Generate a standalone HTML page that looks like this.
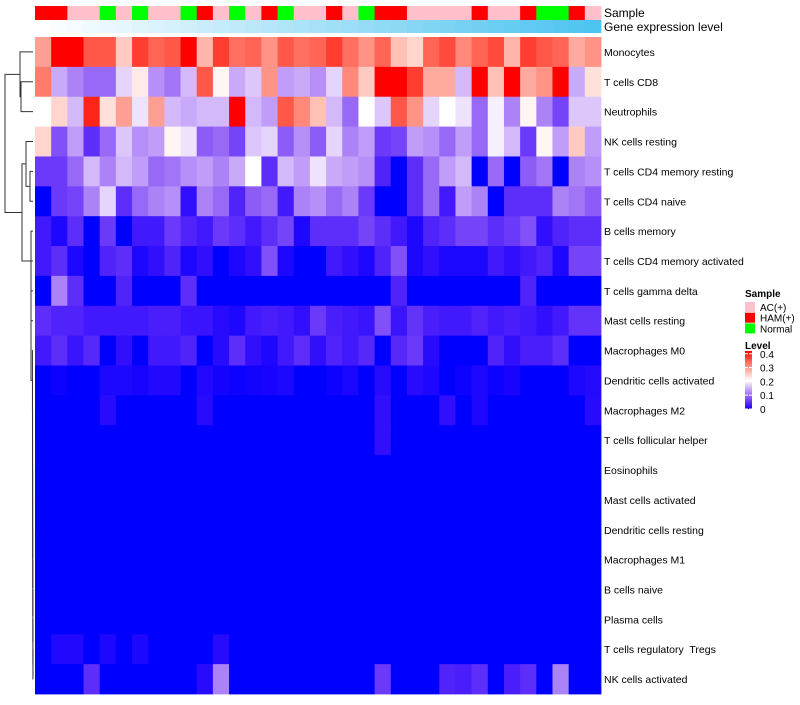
<!DOCTYPE html>
<html><head><meta charset="utf-8"><style>
body{margin:0;background:#fff;width:800px;height:700px;overflow:hidden;font-family:"Liberation Sans",sans-serif}
svg text{font-family:"Liberation Sans",sans-serif;white-space:pre}
</style></head><body>
<svg id="chart" width="800" height="700" xmlns="http://www.w3.org/2000/svg"></svg>
<script>
const rowLabels=["Monocytes","T cells CD8","Neutrophils","NK cells resting","T cells CD4 memory resting","T cells CD4 naive","B cells memory","T cells CD4 memory activated","T cells gamma delta","Mast cells resting","Macrophages M0","Dendritic cells activated","Macrophages M2","T cells follicular helper","Eosinophils","Mast cells activated","Dendritic cells resting","Macrophages M1","B cells naive","Plasma cells","T cells regulatory  Tregs","NK cells activated"];
const sampleGroups=["H","H","A","A","N","A","N","A","A","N","H","A","N","A","H","N","A","A","H","A","N","H","H","A","A","A","A","H","A","A","H","N","N","H","A"];
const zeros=()=>Array(35).fill(0);
const r0=[0.3,0.42,0.42,0.36,0.36,0.26,0.38,0.35,0.36,0.42,0.28,0.38,0.34,0.35,0.31,0.36,0.34,0.35,0.38,0.34,0.31,0.35,0.27,0.25,0.35,0.37,0.32,0.35,0.37,0.28,0.38,0.36,0.35,0.29,0.31];
const r1=[0.33,0.15,0.12,0.1,0.1,0.18,0.23,0.13,0.11,0.16,0.36,0.22,0.15,0.17,0.31,0.14,0.15,0.13,0.18,0.32,0.26,0.45,0.45,0.38,0.29,0.29,0.16,0.45,0.27,0.45,0.29,0.31,0.45,0.15,0.24];
const r2=[0.21,0.25,0.16,0.4,0.24,0.3,0.19,0.3,0.16,0.15,0.16,0.16,0.45,0.16,0.14,0.36,0.32,0.27,0.16,0.1,0.21,0.17,0.36,0.31,0.18,0.21,0.19,0.1,0.2,0.12,0.22,0.12,0.07,0.17,0.17];
const r3=[0.25,0.08,0.14,0.05,0.1,0.17,0.13,0.14,0.22,0.19,0.09,0.1,0.07,0.17,0.18,0.09,0.13,0.09,0.18,0.12,0.14,0.06,0.07,0.14,0.13,0.1,0.14,0.1,0.2,0.16,0.06,0.22,0.14,0.26,0.14];
const r4=[0.06,0.06,0.1,0.16,0.12,0.16,0.14,0.1,0.11,0.13,0.14,0.12,0.15,0.21,0.05,0.16,0.14,0.19,0.15,0.14,0.13,0.04,0,0.05,0.1,0.14,0.16,0,0.1,0,0.09,0.11,0,0.12,0.13];
const r5=[0,0.06,0.07,0.12,0.18,0.05,0.1,0.12,0.13,0.02,0.12,0.1,0.04,0.09,0.1,0.03,0.12,0.13,0.1,0.12,0.06,0,0,0.05,0.1,0.03,0.14,0.12,0,0.05,0.05,0.05,0.12,0.11,0.09];
const r6=[0.03,0.01,0.05,0,0.06,0,0.03,0.03,0.06,0.04,0.03,0.06,0.05,0.03,0.05,0.07,0.01,0.05,0.05,0.05,0.07,0.05,0.03,0.01,0.04,0.05,0.07,0.07,0.05,0.06,0.08,0.02,0.04,0.05,0.05];
const r7=[0.03,0.05,0.01,0,0.04,0.05,0.01,0.02,0.04,0.01,0.02,0,0.01,0.02,0.08,0.01,0,0,0.03,0.02,0.01,0.04,0.08,0.01,0.02,0.01,0.01,0.01,0.03,0.02,0.03,0.04,0.01,0.07,0.07];
const r8=[0,0.12,0.05,0,0,0.04,0,0,0,0.05,0,0,0,0,0,0,0,0,0,0,0,0,0.04,0,0,0,0,0,0,0,0.04,0,0,0,0];
const r9=[0.05,0.04,0.04,0.03,0.03,0.03,0.03,0.035,0.035,0.025,0.025,0.015,0.01,0.03,0.035,0.03,0.02,0.06,0.035,0.03,0.025,0.08,0.025,0.055,0.035,0.03,0.03,0.04,0.03,0.035,0.03,0.02,0.03,0.055,0.055];
const r10=[0.03,0.05,0.025,0.045,0,0.02,0,0.03,0.03,0.04,0,0.015,0.05,0.02,0.01,0.03,0.05,0.02,0.04,0.03,0.045,0,0.045,0.06,0.015,0,0,0,0.04,0.02,0.035,0.035,0.05,0,0];
const r11=[0,0.003,0,0,0.01,0.01,0.007,0.012,0.012,0,0.012,0.005,0.003,0.005,0.007,0.01,0,0,0.003,0.008,0,0.015,0,0.015,0.01,0,0.003,0.01,0.003,0.007,0,0,0,0.01,0.013];
const r12=zeros();r12[4]=0.015;r12[10]=0.015;r12[21]=0.02;r12[25]=0.02;r12[27]=0.01;r12[34]=0.015;
const r13=zeros();r13[21]=0.02;
const r20=zeros();r20[1]=0.012;r20[2]=0.012;r20[4]=0.01;r20[6]=0.01;r20[11]=0.015;
const r21=zeros();r21[3]=0.05;r21[10]=0.015;r21[11]=0.12;r21[21]=0.06;r21[25]=0.04;r21[26]=0.035;r21[27]=0.05;r21[29]=0.035;r21[30]=0.05;r21[32]=0.12;
const values=[r0,r1,r2,r3,r4,r5,r6,r7,r8,r9,r10,r11,r12,r13,zeros(),zeros(),zeros(),zeros(),zeros(),zeros(),r20,r21];
const legendTicks=[0,0.1,0.2,0.3,0.4];
const groupNames=["AC(+)","HAM(+)","Normal"];
</script>
<script>
const NS="http://www.w3.org/2000/svg";
const svg=document.getElementById('chart');
function mk(t,a,p){const e=document.createElementNS(NS,t);for(const k in a)e.setAttribute(k,a[k]);(p||svg).appendChild(e);return e;}
const X0=35,X1=601,Y0=37,Y1=694;
const nC=35,nR=rowLabels.length;
const cw=(X1-X0)/nC,rh=(Y1-Y0)/nR;
const VMAX=0.42;
function color(v){let t=Math.max(0,Math.min(1,v/VMAX));let r,g,b;
 if(t<0.5){const u=t/0.5;r=255*Math.pow(u,0.7);g=255*Math.pow(u,1.2);b=255-8*Math.sin(Math.PI*u);}
 else{const u=(t-0.5)/0.5;r=255;g=255*Math.pow(1-u,0.85);b=255*Math.pow(1-u,1.0);}
 return `rgb(${Math.round(r)},${Math.round(g)},${Math.round(b)})`;}
const gcol={A:"#FFC0CB",H:"#FF0000",N:"#00FF00"};
const gH=mk('g',{});
for(let i=0;i<nR;i++)for(let j=0;j<nC;j++){
 const c=mk('rect',{x:X0+j*cw,y:Y0+i*rh,width:cw+0.4,height:rh+0.4,fill:color(values[i][j])},gH);
 
 }
for(let j=0;j<nC;j++){
 const s=mk('rect',{x:X0+j*cw,y:6,width:cw+0.4,height:14,fill:gcol[sampleGroups[j]]});
 
 
 const t=j/(nC-1);
 const g=mk('rect',{x:X0+j*cw,y:20,width:cw+0.4,height:13,fill:`rgb(${Math.round(255-(255-77)*t)},${Math.round(255-(255-195)*t)},${Math.round(255-(255-240)*t)})`});
 
 }
let a=mk('text',{x:604,y:17,'font-size':12,fill:'#000'});a.textContent='Sample';
a=mk('text',{x:604,y:31,'font-size':12,fill:'#000'});a.textContent='Gene expression level';
rowLabels.forEach((l,i)=>{const t=mk('text',{x:604,y:Y0+(i+0.5)*rh+4,'font-size':10.5,fill:'#000'});t.textContent=l;
 });
const yc=i=>Y0+(i+0.5)*rh;
const dg=mk('g',{stroke:'#333','stroke-width':1,fill:'none'});
function link(ya,xa,yb,xb,xm){mk('path',{d:`M${xa},${ya}H${xm}V${yb}H${xb}`},dg);return [xm,(ya+yb)/2];}
function cluster(lo,hi,xs){
 let [x,y]=[33,yc(hi)];
 for(let i=hi-1;i>=lo;i--){const xm=xs[i]!==undefined?xs[i]:33-(hi-i)*0.05;const r=link(yc(i),33,y,x,Math.min(xm,x));x=r[0];y=r[1];}
 return [x,y];}
let A=link(yc(1),33,yc(2),33,21);
let B=link(yc(0),33,A[1],A[0],20);
let C=link(yc(4),33,yc(5),33,30);
let D=link(yc(3),33,C[1],C[0],26);
let E=cluster(6,21,{6:31,7:31.5,8:32,9:31});
let F=link(D[1],D[0],E[1],E[0],22);
link(B[1],B[0],F[1],F[0],5);
let lt=mk('text',{x:745,y:297,'font-size':10,'font-weight':'bold'});lt.textContent='Sample';
['A','H','N'].forEach((k,i)=>{const r=mk('rect',{x:745,y:302+i*10.7,width:10,height:10,fill:gcol[k]});
 const t=mk('text',{x:760,y:311+i*10.7,'font-size':10});t.textContent=groupNames[i];});
lt=mk('text',{x:745,y:349,'font-size':10,'font-weight':'bold'});lt.textContent='Level';
const by0=351,by1=409;
for(let k=0;k<58;k++){const v=VMAX*(1-k/58);const r=mk('rect',{x:745,y:by0+k,width:7,height:1.2,fill:color(v)});}
legendTicks.forEach(v=>{const y=by1-(v/VMAX)*(by1-by0);
 mk('line',{x1:745,x2:748,y1:y,y2:y,stroke:'#fff'});mk('line',{x1:749,x2:752,y1:y,y2:y,stroke:'#fff'});
 const t=mk('text',{x:760,y:y+4,'font-size':10});t.textContent=v===0?'0':String(v);});
</script>
</body></html>
